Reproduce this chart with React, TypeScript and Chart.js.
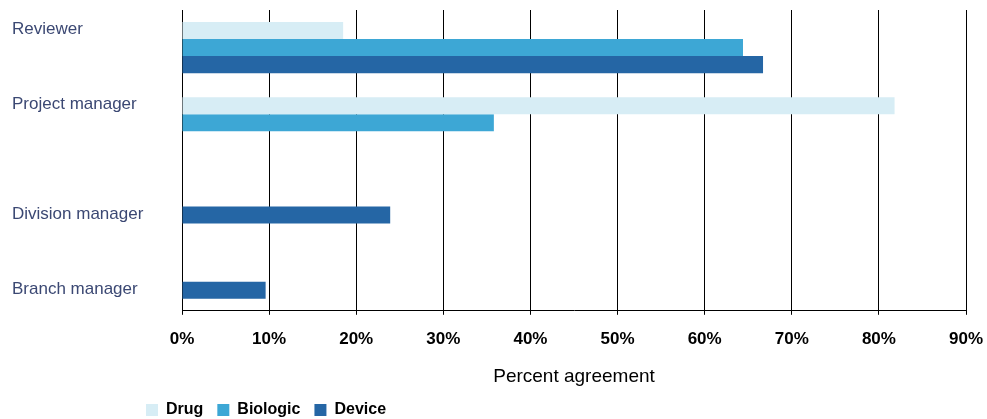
import React, { useEffect, useRef } from "react";
import { Chart, registerables } from "chart.js";

Chart.register(...registerables);

const categories = ["Reviewer", "Project manager", "Division manager", "Branch manager"];
const seriesNames = ["Drug", "Biologic", "Device"];
const drugValues = [18.5, 81.8, null, null];
const biologicValues = [64.4, 35.8, null, null];
const deviceValues = [66.7, null, 23.9, 9.6];
const seriesColors = ["#D7EDF5", "#3DA7D5", "#2566A5"];
const xTickMax = 90;
const xTickStep = 10;
const xTitle = "Percent agreement";

const FONT = "'Liberation Sans', Arial, Helvetica, sans-serif";

const categoryLabelPlugin = {
  id: "categoryLabels",
  afterDatasetsDraw(chart: any) {
    const ctx = chart.ctx;
    ctx.save();
    ctx.font = `17px ${FONT}`;
    ctx.fillStyle = "#3B4873";
    ctx.textAlign = "left";
    ctx.textBaseline = "alphabetic";
    const labels = chart.data.labels as string[];
    labels.forEach((label: string, i: number) => {
      for (let d = 0; d < chart.data.datasets.length; d++) {
        const v = chart.data.datasets[d].data[i];
        if (v !== null && v !== undefined) {
          const el = chart.getDatasetMeta(d).data[i] as any;
          const top = el.y - el.height / 2;
          ctx.fillText(label, 12, top + 12);
          break;
        }
      }
    });
    ctx.restore();
  },
};

export default function App() {
  const canvasRef = useRef<HTMLCanvasElement | null>(null);

  useEffect(() => {
    if (!canvasRef.current) return;
    const values = [drugValues, biologicValues, deviceValues];
    const chart = new Chart(canvasRef.current, {
      type: "bar",
      data: {
        labels: categories,
        datasets: seriesNames.map((name, i) => ({
          label: name,
          data: values[i],
          backgroundColor: seriesColors[i],
          borderWidth: 0,
          categoryPercentage: 0.68,
          barPercentage: 1,
        })),
      },
      options: {
        indexAxis: "y",
        animation: false,
        responsive: true,
        maintainAspectRatio: false,
        layout: { padding: { left: 132, right: 21, top: 10, bottom: -9 } },
        scales: {
          x: {
            min: 0,
            max: xTickMax,
            ticks: {
              stepSize: xTickStep,
              color: "#000",
              padding: 14,
              font: { family: FONT, size: 17, weight: "bold" },
              callback: (v: any) => `${v}%`,
            },
            grid: {
              color: "#000",
              lineWidth: 1,
              drawTicks: true,
              tickLength: 4,
              tickColor: "#000",
            },
            border: { display: true, color: "#000", width: 1 },
            title: {
              display: true,
              text: xTitle,
              color: "#000",
              font: { family: FONT, size: 19, weight: "normal" },
              padding: { top: 2, bottom: 0 },
            },
            afterFit: (scale: any) => {
              scale.paddingRight = 0;
            },
          },
          y: {
            ticks: { display: false },
            grid: { display: false, drawTicks: false },
            border: { display: false },
            afterFit: (scale: any) => {
              scale.width = 50;
            },
          },
        },
        plugins: {
          legend: {
            position: "bottom",
            align: "start",
            labels: {
              boxWidth: 12,
              boxHeight: 12,
              padding: 14,
              color: "#000",
              font: { family: FONT, size: 16, weight: "bold" },
            },
          },
          tooltip: { enabled: false },
        },
      },
      plugins: [categoryLabelPlugin],
    } as any);
    return () => chart.destroy();
  }, []);

  return (
    <div style={{ position: "absolute", left: 0, top: 0, width: 987, height: 419, background: "#fff" }}>
      <canvas ref={canvasRef} />
    </div>
  );
}
